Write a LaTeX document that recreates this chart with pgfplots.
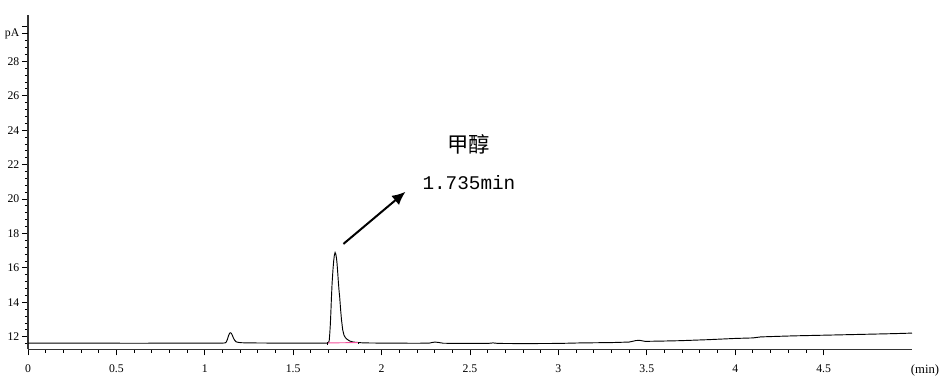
\documentclass[border=0pt]{standalone}
\usepackage{pgfplots}
\pgfplotsset{compat=1.18}
\usepackage{fontspec}
\setmainfont{Liberation Serif}
\newfontfamily\cjk{Noto Sans CJK SC}
\newfontfamily\mono{Liberation Mono}
\usetikzlibrary{arrows.meta}
\begin{document}
\begin{tikzpicture}
\path[use as bounding box] (-21pt,-20.6pt) rectangle (686.25pt,262.1pt);
\begin{axis}[
  at={(0,0)}, anchor=south west,
  scale only axis, width=663pt, height=251pt,
  xmin=0, xmax=5, ymin=11.26, ymax=30.7,
  axis lines*=left,
  axis line style={line width=0.9pt, black!80},
  tick align=outside,
  major tick length=4.5pt, minor tick length=2.3pt,
  tick style={black, line width=0.6pt},
  xtick={0,0.5,...,4.5}, minor x tick num=4,
  xticklabels={0,0.5,1,1.5,2,2.5,3,3.5,4,4.5},
  ytick={10,12,...,30}, minor y tick num=4,
  yticklabel={\ifdim\tick pt>29pt\else\pgfmathprintnumber{\tick}\fi},
  extra y ticks={29.6}, extra y tick labels={pA},
  extra y tick style={major tick length=4.5pt},
  /pgf/number format/assume math mode=true,
  ticklabel style={font=\fontsize{8.8}{9}\selectfont},
  xticklabel style={yshift=-3.5pt},
  yticklabel style={xshift=1.5pt},
  clip=false,
]
\addplot[black, line width=0.7pt] coordinates {
(0,11.63) (0.3,11.63) (0.6,11.62) (0.9,11.63) (1.10,11.63) (1.115,11.64)
(1.122,11.70) (1.128,11.85) (1.134,12.05) (1.140,12.20) (1.145,12.23)
(1.150,12.20) (1.156,12.08) (1.163,11.90) (1.170,11.78) (1.178,11.70)
(1.190,11.67) (1.21,11.65) (1.25,11.64) (1.4,11.63) (1.6,11.63)
(1.690,11.63) (1.700,11.66) (1.704,11.8) (1.707,12.2) (1.710,12.7)
(1.713,13.4) (1.716,14.2) (1.720,15.1) (1.725,15.9) (1.729,16.4)
(1.733,16.75) (1.737,16.89) (1.741,16.8) (1.745,16.55) (1.748,16.25)
(1.752,15.7) (1.756,15.1) (1.760,14.6) (1.763,14.3) (1.768,13.6)
(1.773,13.0) (1.780,12.4) (1.787,12.1) (1.795,11.95) (1.805,11.85)
(1.820,11.75) (1.840,11.69) (1.870,11.66) (1.900,11.64)
(2.0,11.63) (2.2,11.62) (2.27,11.63) (2.30,11.69) (2.32,11.67) (2.35,11.62)
(2.5,11.61) (2.6,11.61) (2.63,11.64) (2.66,11.61) (2.8,11.60) (3.0,11.61)
(3.126,11.64) (3.3,11.66) (3.40,11.69) (3.44,11.78) (3.46,11.79) (3.49,11.73)
(3.6,11.75) (3.69,11.77) (3.85,11.83) (4.0,11.90) (4.10,11.93) (4.145,11.99)
(4.33,12.05) (4.51,12.09) (4.73,12.14) (4.9,12.18) (5.0,12.21)
};
\addplot[magenta!80!red!70!white, line width=0.7pt] coordinates {(1.691,11.64) (1.87,11.66)};
\addplot[black, line width=0.5pt] coordinates {(1.691,11.52) (1.691,11.68)};
\addplot[black, line width=0.5pt] coordinates {(1.87,11.58) (1.87,11.72)};
\draw[black, line width=1.5pt, -{Latex[length=10pt,width=9pt]}] (axis cs:1.784,17.39) -- (axis cs:2.135,20.42);
\node[font=\cjk\fontsize{16}{18}\selectfont] at (axis cs:2.494,23.15) {甲醇};
\node[font=\mono\fontsize{14.5}{16}\selectfont] at (axis cs:2.494,20.94) {1.735min};
\node[font=\fontsize{9.5}{10}\selectfont, anchor=center] at ([xshift=9.75pt,yshift=-15.4pt]rel axis cs:1,0) {(min)};
\end{axis}
\end{tikzpicture}
\end{document}
